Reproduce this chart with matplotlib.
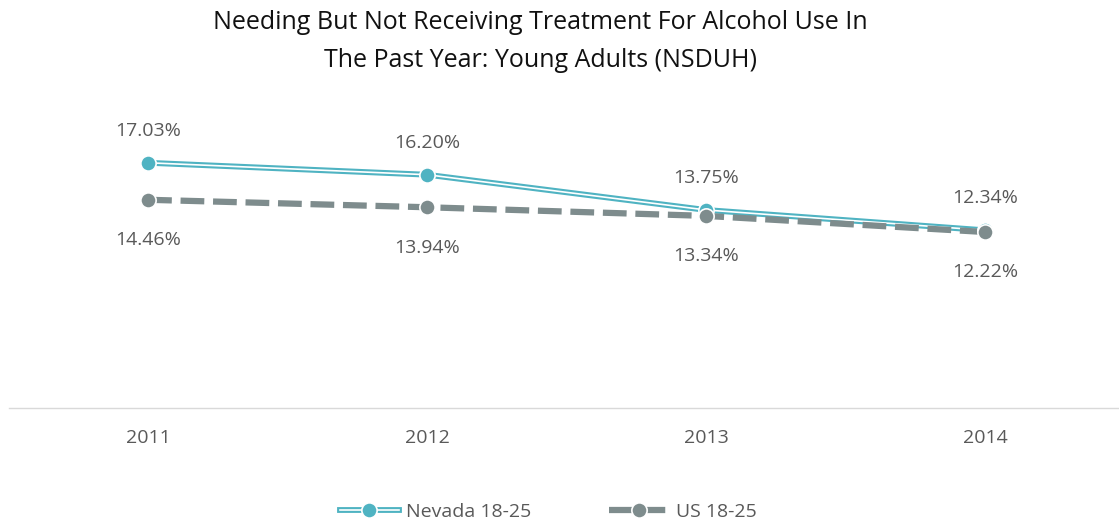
import matplotlib.pyplot as plt
import matplotlib.patheffects as pe

years = ["2011", "2012", "2013", "2014"]
nevada = [17.03, 16.20, 13.75, 12.34]
us = [14.46, 13.94, 13.34, 12.22]

teal = "#4FB3C2"
gray = "#7E8C8D"
text_col = "#595959"

plt.rcParams['font.family'] = ['Open Sans', 'DejaVu Sans']

fig = plt.figure(figsize=(11.19, 5.25), dpi=100)
ax = fig.add_axes([8.5 / 1119, 117 / 525, 1116.5 / 1119, 288 / 525])

x = range(len(years))

# Nevada: double line (teal with white core)
nv_line, = ax.plot(x, nevada, color="white", lw=1.2, zorder=3,
                   path_effects=[pe.Stroke(linewidth=4.2, foreground=teal), pe.Normal()])
nv_marks, = ax.plot(x, nevada, ls="none", marker="o", ms=11, mfc=teal,
                    mec="white", mew=1.2, zorder=4)

# US: thick dashed line
us_line, = ax.plot(x, us, color=gray, lw=4.5, zorder=3)
us_line.set_dashes([3.8, 1.4])
us_marks, = ax.plot(x, us, ls="none", marker="o", ms=11, mfc=gray,
                    mec="white", mew=1.2, zorder=4)

for i in x:
    ax.annotate(f"{nevada[i]:.2f}%", (i, nevada[i]), xytext=(0, 23),
                textcoords="offset points", ha="center", va="center",
                fontsize=14, color=text_col)
    ax.annotate(f"{us[i]:.2f}%", (i, us[i]), xytext=(0, -29),
                textcoords="offset points", ha="center", va="center",
                fontsize=14, color=text_col)

ax.set_xlim(-0.5, 3.5)
ax.set_ylim(0, 20)
ax.set_xticks(list(x))
ax.set_xticklabels(years, fontsize=14, color=text_col)
ax.tick_params(axis="x", length=0, pad=15)
ax.set_yticks([])
for s in ["top", "left", "right"]:
    ax.spines[s].set_visible(False)
ax.spines["bottom"].set_color("#D9D9D9")
ax.spines["bottom"].set_linewidth(1)

fig.text(0.483, 0.958, "Needing But Not Receiving Treatment For Alcohol Use In",
         ha="center", va="center", fontsize=18, color="#111111")
fig.text(0.483, 0.885, "The Past Year: Young Adults (NSDUH)",
         ha="center", va="center", fontsize=18, color="#111111")

fig.legend([(nv_line, nv_marks), (us_line, us_marks)], ["Nevada 18-25", "US 18-25"],
           loc="center", bbox_to_anchor=(0.49, 0.025), ncol=2, frameon=False,
           fontsize=14, labelcolor=text_col, handlelength=3.0, columnspacing=4,
           handletextpad=0.4)

fig.savefig("out.png", dpi=100)
